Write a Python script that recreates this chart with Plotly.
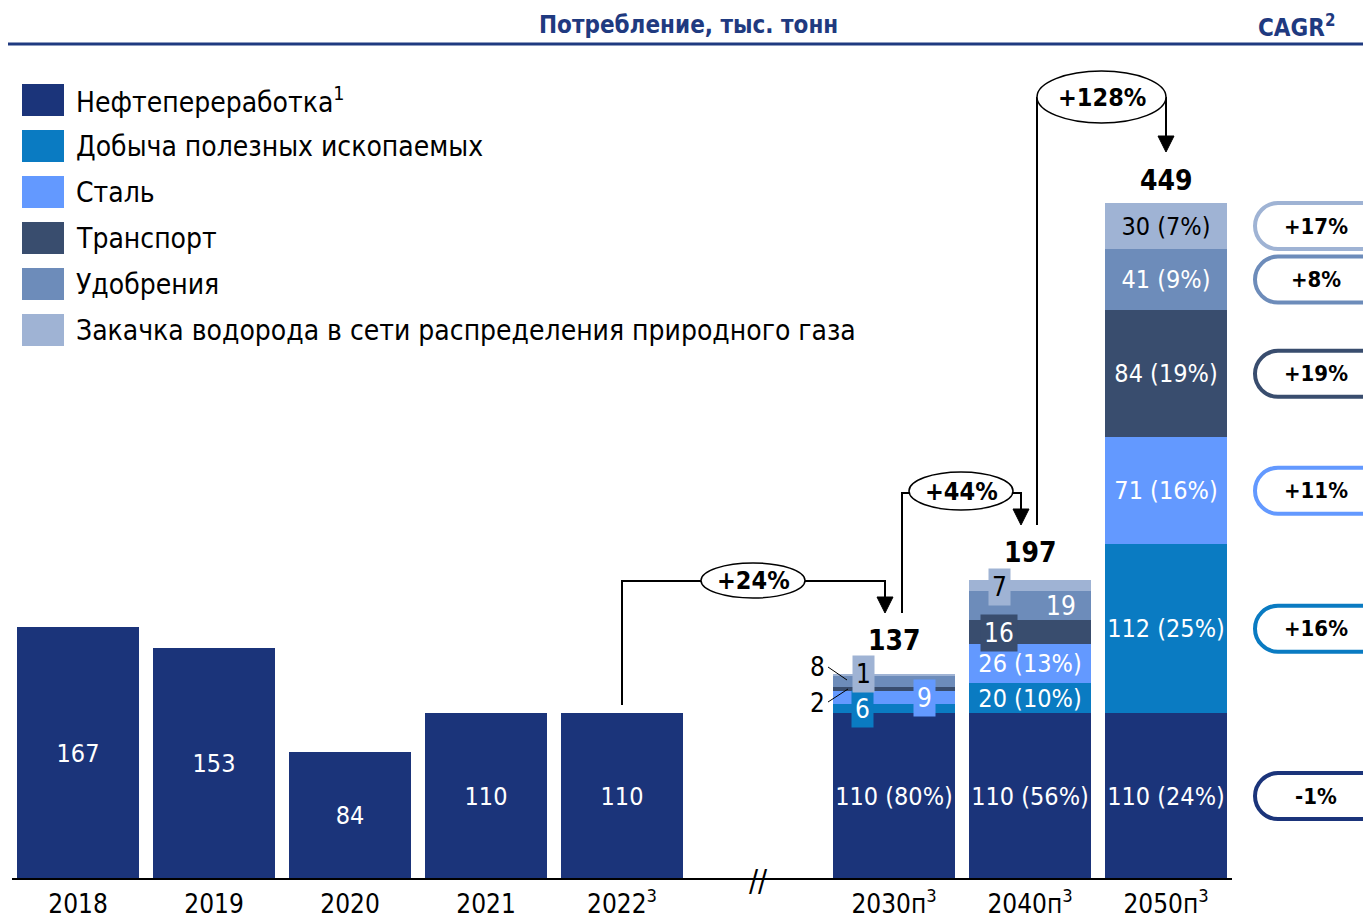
import plotly.graph_objects as go

# ---- data -------------------------------------------------------------
years = ["2018", "2019", "2020", "2021", "2022", "2030", "2040", "2050"]
x_pos = [0, 1, 2, 3, 4, 6, 7, 8]
tick_text = ["2018", "2019", "2020", "2021", "2022<sup>3</sup>",
             "2030п<sup>3</sup>", "2040п<sup>3</sup>", "2050п<sup>3</sup>"]

series_names = ["Нефтепереработка<sup>1</sup>", "Добыча полезных ископаемых", "Сталь",
                "Транспорт", "Удобрения",
                "Закачка водорода в сети распределения природного газа"]
oil = [167, 153, 84, 110, 110, 110, 110, 110]
mining = [None, None, None, None, None, 6, 20, 112]
steel = [None, None, None, None, None, 9, 26, 71]
transport = [None, None, None, None, None, 2, 16, 84]
fertilizer = [None, None, None, None, None, 8, 19, 41]
hydrogen = [None, None, None, None, None, 1, 7, 30]

oil_pct = [None, None, None, None, None, 80, 56, 24]
mining_pct = [None, None, None, None, None, None, 10, 25]
steel_pct = [None, None, None, None, None, None, 13, 16]
transport_pct = [None, None, None, None, None, None, None, 19]
fertilizer_pct = [None, None, None, None, None, None, None, 9]
hydrogen_pct = [None, None, None, None, None, None, None, 7]

forecast_totals = [137, 197, 449]
growth = ["+24%", "+44%", "+128%"]
cagr = ["-1%", "+16%", "+11%", "+19%", "+8%", "+17%"]

colors = ["#1B347A", "#0A7BC2", "#6399FF", "#394D6E", "#6D8CBA", "#9FB3D4"]
NAVY = "#1F3A80"
FONT = "DejaVu Sans Condensed, DejaVu Sans, sans-serif"


# pixel -> data helpers for decorations
def X(p):
    return (p - 78) / 136


def Y(p):
    return (879 - p) / 1.508


def lab(v, pct):
    if v is None:
        return ""
    return f"{v} ({pct}%)" if pct is not None else str(v)


all_series = [oil, mining, steel, transport, fertilizer, hydrogen]
all_pct = [oil_pct, mining_pct, steel_pct, transport_pct, fertilizer_pct, hydrogen_pct]

# labels placed by hand as boxed annotations (2030 small parts, 2040 upper parts)
manual = {(1, 5), (2, 5), (3, 5), (4, 5), (5, 5), (3, 6), (4, 6), (5, 6)}

fig = go.Figure()
for si, (vals, pcts) in enumerate(zip(all_series, all_pct)):
    texts, pos = [], []
    for i, (v, p) in enumerate(zip(vals, pcts)):
        hide = (si, i) in manual or v is None
        texts.append(lab(v, p))
        pos.append("none" if hide else "inside")
    fig.add_trace(go.Bar(
        x=x_pos, y=vals, width=0.904,
        marker=dict(color=colors[si], line=dict(width=0)),
        text=texts, textposition=pos, insidetextanchor="middle",
        constraintext="none", textangle=0,
        textfont=dict(family=FONT, size=25, color="black" if si == 5 else "white"),
        showlegend=False, hoverinfo="skip",
    ))

shapes = []
ann = []

# axis line + break
shapes.append(dict(type="line", x0=X(12), x1=X(1232), y0=0, y1=0,
                   line=dict(color="black", width=2)))
ann.append(dict(x=X(758), y=0, text="//", showarrow=False, yshift=-1,
                font=dict(family=FONT, size=30, color="black")))

# title
shapes.append(dict(type="line", x0=X(8), x1=X(1400), y0=Y(44), y1=Y(44),
                   line=dict(color=NAVY, width=3)))
ann.append(dict(x=X(688), y=Y(25), text="<b>Потребление, тыс. тонн</b>", showarrow=False,
                font=dict(family=FONT, size=24, color=NAVY)))
ann.append(dict(x=X(1337), y=Y(26), text="<b>CAGR<sup>2</sup></b>", showarrow=False, xanchor="right",
                font=dict(family=FONT, size=24, color=NAVY)))

# legend
for i, name in enumerate(series_names):
    cy = 100 + 46 * i
    shapes.append(dict(type="rect", x0=X(22), x1=X(64), y0=Y(cy - 16), y1=Y(cy + 16),
                       fillcolor=colors[i], line=dict(width=0)))
    ann.append(dict(x=X(74), y=Y(cy), text=name, showarrow=False, xanchor="left",
                    font=dict(family=FONT, size=28, color="black")))

# totals above forecast stacks
for k, (xi, tot) in enumerate(zip([6, 7, 8], forecast_totals)):
    stack = sum(s[x_pos.index(xi)] or 0 for s in all_series)
    ann.append(dict(x=xi, y=stack, text=f"<b>{tot}</b>", showarrow=False, yanchor="bottom",
                    yshift=[15, 9, 4][k], font=dict(family=FONT, size=28, color="black")))


# boxed small labels
def box(px, py, txt, bg, fc):
    ann.append(dict(x=X(px), y=Y(py), text=txt, showarrow=False, bgcolor=bg, borderpad=3,
                    font=dict(family=FONT, size=26, color=fc)))


box(862, 709, "6", colors[1], "white")
box(924, 698, "9", colors[2], "white")
box(863, 674, "1", colors[5], "black")
ann.append(dict(x=X(817), y=Y(667), text="8", showarrow=False,
                font=dict(family=FONT, size=26, color="black")))
ann.append(dict(x=X(817), y=Y(703), text="2", showarrow=False,
                font=dict(family=FONT, size=26, color="black")))
shapes.append(dict(type="line", x0=X(828), y0=Y(667), x1=X(847), y1=Y(680),
                   line=dict(color="black", width=1)))
shapes.append(dict(type="line", x0=X(828), y0=Y(702), x1=X(848), y1=Y(689),
                   line=dict(color="black", width=1)))
box(999, 587, "7", colors[5], "black")
box(999, 633, "16", colors[3], "white")
ann.append(dict(x=X(1061), y=Y(606), text="19", showarrow=False,
                font=dict(family=FONT, size=26, color="white")))


# growth brackets
def polyline(pts):
    d = "M " + " L ".join(f"{X(a)},{Y(b)}" for a, b in pts)
    shapes.append(dict(type="path", path=d, line=dict(color="black", width=2)))


def head(px, tip):
    d = f"M {X(px - 8)},{Y(tip - 16)} L {X(px + 8)},{Y(tip - 16)} L {X(px)},{Y(tip)} Z"
    shapes.append(dict(type="path", path=d, fillcolor="black", line=dict(color="black", width=1)))


def bubble(x0, y0, x1, y1, txt):
    shapes.append(dict(type="circle", x0=X(x0), x1=X(x1), y0=Y(y0), y1=Y(y1),
                       fillcolor="white", line=dict(color="black", width=1.5)))
    ann.append(dict(x=X((x0 + x1) / 2), y=Y((y0 + y1) / 2), text=f"<b>{txt}</b>", showarrow=False,
                    font=dict(family=FONT, size=25, color="black")))


polyline([(622, 705), (622, 581), (885, 581), (885, 598)])
head(885, 613)
bubble(701, 563, 805, 598, growth[0])

polyline([(902, 613), (902, 493), (1021, 493), (1021, 510)])
head(1021, 525)
bubble(909, 472, 1013, 510, growth[1])

polyline([(1037, 525), (1037, 97)])
polyline([(1166, 97), (1166, 137)])
head(1166, 152)
bubble(1037, 71, 1166, 123, growth[2])

# CAGR pills aligned with 2050 segments
k = 0.5523
base = 0
for si, s in enumerate(all_series):
    v = s[-1]
    mid = base + v / 2
    base += v
    cy = 879 - mid * 1.508
    T, B, L, R, r = cy - 23, cy + 23, 1255, 1420, 23
    d = f"M {X(L + r)},{Y(T)} L {X(R)},{Y(T)} L {X(R)},{Y(B)} L {X(L + r)},{Y(B)} "
    d += f"C {X(L + r - k * r)},{Y(B)} {X(L)},{Y(cy + k * r)} {X(L)},{Y(cy)} "
    d += f"C {X(L)},{Y(cy - k * r)} {X(L + r - k * r)},{Y(T)} {X(L + r)},{Y(T)} Z"
    shapes.append(dict(type="path", path=d, fillcolor="white", line=dict(color=colors[si], width=4)))
    ann.append(dict(x=X(1316), y=Y(cy), text=f"<b>{cagr[si]}</b>", showarrow=False,
                    font=dict(family=FONT, size=22, color="black")))

fig.update_layout(
    barmode="stack",
    width=1363, height=920,
    margin=dict(l=0, r=0, t=0, b=38),
    paper_bgcolor="white", plot_bgcolor="white",
    shapes=shapes, annotations=ann,
    xaxis=dict(range=[X(0), X(1363)], tickvals=x_pos, ticktext=tick_text,
               showgrid=False, zeroline=False, showline=False, ticks="",
               ticklabelstandoff=4, automargin=False,
               tickfont=dict(family=FONT, size=26, color="black")),
    yaxis=dict(range=[Y(882), Y(0)], visible=False, automargin=False),
)

fig.write_html("out.html", config={"displayModeBar": False},
               post_script="document.body.style.margin='0px';")
